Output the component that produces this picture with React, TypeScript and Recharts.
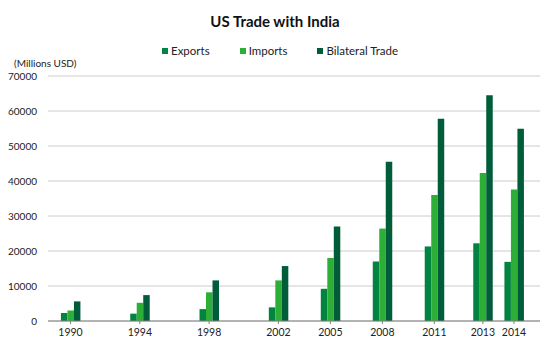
import React from 'react';
import { BarChart, Bar, XAxis, YAxis, CartesianGrid } from 'recharts';

const years = ['1990', '1994', '1998', '2002', '2005', '2008', '2011', '2013', '2014'];
// horizontal slot of each year on the axis (the original spaces the last two unevenly)
const slots = [0, 4, 8, 12, 15, 18, 21, 23.8, 25.6];
const exportsUsd = [2300, 2100, 3400, 3900, 9200, 17000, 21300, 22200, 16900];
const importsUsd = [3000, 5200, 8200, 11600, 18000, 26400, 36000, 42300, 37600];
const bilateralUsd = [5600, 7400, 11600, 15700, 27000, 45500, 57800, 64500, 54900];
const yTicks = [0, 10000, 20000, 30000, 40000, 50000, 60000, 70000];

const series = [
  { key: 'exports', name: 'Exports', color: '#00843f' },
  { key: 'imports', name: 'Imports', color: '#2daf37' },
  { key: 'bilateral', name: 'Bilateral Trade', color: '#005d39' },
];

const data = years.map((y, i) => ({
  year: y,
  slot: slots[i],
  exports: exportsUsd[i],
  imports: importsUsd[i],
  bilateral: bilateralUsd[i],
}));

const font = 'Lato, "Noto Sans", sans-serif';

export default function App() {
  return (
    <div style={{ position: 'absolute', left: 0, top: 0, width: 550, height: 357, background: '#fff', fontFamily: font }}>
      <div style={{ position: 'absolute', top: 12, left: 0, width: 550, textAlign: 'center', fontWeight: 700, fontSize: 15, color: '#111' }}>
        US Trade with India
      </div>
      <div style={{ position: 'absolute', top: 44, left: 162, display: 'flex', fontSize: 11.5, color: '#222' }}>
        {series.map((s, i) => (
          <div key={s.key} style={{ display: 'flex', alignItems: 'center', marginRight: i === 0 ? 30 : 30 }}>
            <span style={{ display: 'inline-block', width: 6, height: 6, background: s.color, marginRight: 3 }} />
            {s.name}
          </div>
        ))}
      </div>
      <div style={{ position: 'absolute', top: 57, left: 14, fontSize: 10, color: '#222' }}>(Millions USD)</div>
      <BarChart
        width={550}
        height={357}
        data={data}
        margin={{ top: 76, right: 10, left: 0, bottom: 12 }}
        barGap={0}
      >
        <CartesianGrid vertical={false} stroke="#cccccc" />
        <XAxis
          dataKey="slot"
          type="number"
          domain={[-1.3, 27.1]}
          ticks={slots}
          tickFormatter={(v: number) => years[slots.indexOf(v)] ?? ''}
          interval={0}
          height={24}
          stroke="#808080"
          tickSize={3}
          tickMargin={5}
          tick={{ fill: '#222', fontSize: 10.5, fontFamily: font }}
        />
        <YAxis
          domain={[0, 70000]}
          ticks={yTicks}
          width={48}
          axisLine={false}
          tickLine={false}
          tickMargin={5}
          tick={{ fill: '#222', fontSize: 10, fontFamily: font }}
        />
        {series.map((s) => (
          <Bar key={s.key} dataKey={s.key} name={s.name} fill={s.color} barSize={6.5} isAnimationActive={false} />
        ))}
      </BarChart>
    </div>
  );
}
